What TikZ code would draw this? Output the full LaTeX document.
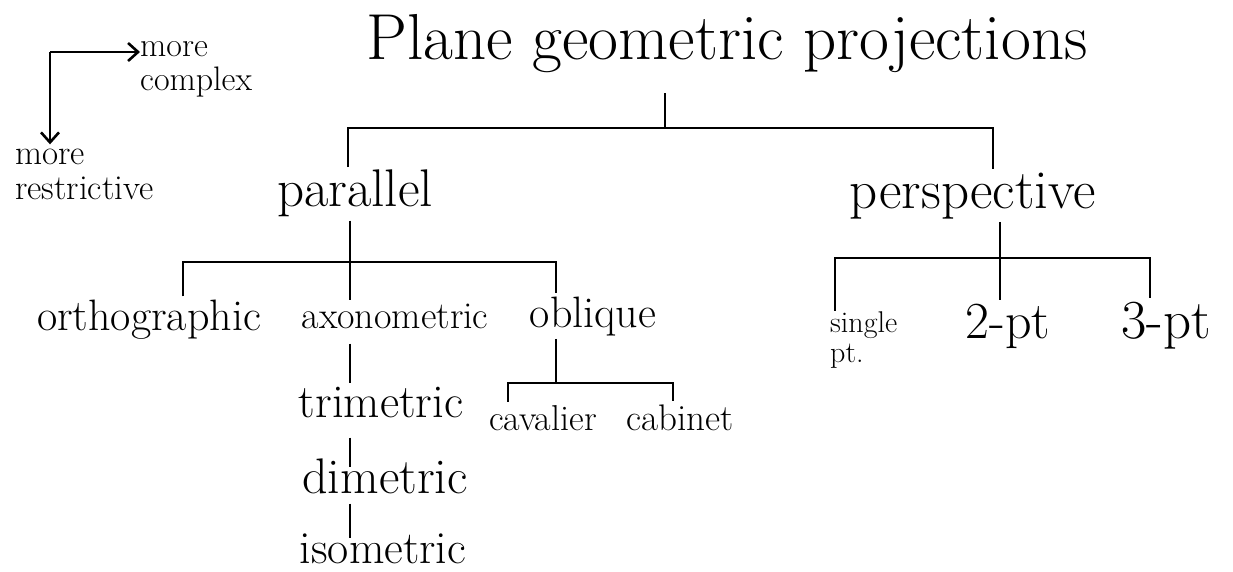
\documentclass[tikz,border=0pt]{standalone}
\usepackage{tikz}
\usetikzlibrary{positioning,arrows.meta}

\begin{document}
\begin{tikzpicture}[
            x=1pt, y=-1pt,
            lbl/.style={
                inner sep=3pt,
                anchor=base,
                font=\fontsize{#1}{#1}\selectfont
            },
            legend/.style 2 args={
                inner sep=0pt,
                align=left,
                anchor=base west,
                font=\fontsize{#1}{#2}\selectfont
            },
            link/.style={line width=2.6pt},
            arrow/.style={link, -{Straight Barb[length=10pt, width=18pt]}}
        ]
        \useasboundingbox (0,0) rectangle (1233,572);

        % Root and first split
        \node[lbl=65] (title) at (727,60) {Plane geometric projections};
        \node[lbl=53] (par) at (355,207) {parallel};
        \node[lbl=55] (persp) at (973,208) {perspective};

        % Parallel branch
        \node[lbl=44] (ortho) at (149,330) {orthographic};
        \node[lbl=38] (axono) at (395,328) {axonometric};
        \node[lbl=44] (obliq) at (593,327) {oblique};

        \node[lbl=47] (trim) at (381,417) {trimetric};
        \node[lbl=50] (dim) at (385,493) {dimetric};
        \node[lbl=46] (iso) at (383,563) {isometric};

        \node[lbl=36] (cav) at (543,430) {cavalier};
        \node[lbl=37] (cab) at (680,430) {cabinet};

        % Perspective branch (base = last line)
        \node[legend={30}{30}] (single) at (830,362) {single\\pt.};
        \node[lbl=52] (twopt) at (1008,338) {2-pt};
        \node[lbl=55] (threept) at (1166,338) {3-pt};

        % Legend
        \coordinate (corner) at (50,52);
        \node[legend={34}{34}] (lgcx) at (140,91) {more\\complex};
        \node[legend={35}{35}] (lgrs) at (15,200) {more\\restrictive};
        \draw[arrow] (corner) -- (lgcx.west |- corner);
        \draw[arrow, shorten >=5pt] (corner) -- (lgrs.north -| corner);

        % Junctions
        \coordinate (t0) at (665,128);
        \coordinate (b1l) at (348,128);
        \coordinate (b1r) at (993,128);
        \coordinate (b2) at (350,262);
        \coordinate (b2l) at (183,262);
        \coordinate (b2r) at (556,262);
        \coordinate (b3) at (1000,258);
        \coordinate (b3l) at (835,258);
        \coordinate (b3r) at (1150,258);
        \coordinate (b4) at (556,383);
        \coordinate (b4l) at (508,383);
        \coordinate (b4r) at (673,383);

        % Tree lines
        \draw[link, shorten <=17pt] (title.south -| t0) -- (t0);
        \draw[link] (par.north -| b1l) -- (b1l) -- (b1r) -- (persp.north -| b1r);

        \draw[link] (par.south -| b2) -- (b2) -- (axono.north -| b2);
        \draw[link] (ortho.north -| b2l) -- (b2l) -- (b2r) -- (obliq.north -| b2r);
        \draw[link, shorten <=12pt] (axono.south -| b2) -- (trim.north -| b2);
        \draw[link, shorten <=17pt, shorten >=-12pt] (trim.south -| b2) -- (dim.north -| b2);
        \draw[link, shorten <=7pt, shorten >=-8pt] (dim.south -| b2) -- (iso.north -| b2);

        \draw[link] (obliq.south -| b4) -- (b4);
        \draw[link] (cav.north -| b4l) -- (b4l) -- (b4r) -- (cab.north -| b4r);

        \draw[link] (persp.south -| b3) -- (b3) -- (twopt.north -| b3);
        \draw[link] (single.north -| b3l) -- (b3l) -- (b3r) -- (threept.north -| b3r);

        \end{tikzpicture}
\end{document}
